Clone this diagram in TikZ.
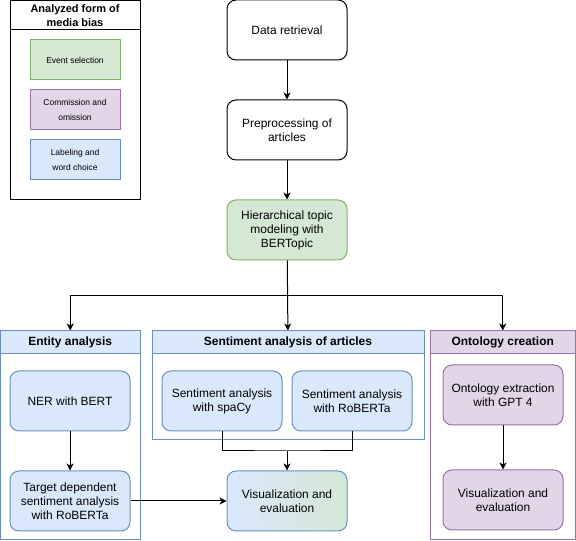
\documentclass[tikz,border=0pt]{standalone}
\usepackage{fontspec}
\setmainfont{Liberation Sans}
\usepackage{tikz}
\usetikzlibrary{arrows.meta,shapes,positioning}

\begin{document}
\begin{tikzpicture}[>={Stealth[length=7bp,width=7bp,inset=2bp]},join=bevel,line width=1bp,
  step box/.style={draw,rounded corners=9bp,minimum width=120bp,minimum height=60bp,align=center,inner sep=1bp,font=\fontsize{12}{14}\selectfont},
  tag box/.style={draw,minimum width=90bp,minimum height=40bp,align=center,inner sep=1bp,font=\fontsize{8.5}{15}\selectfont},
  head box/.style={draw,minimum height=23bp,inner sep=1bp,font=\fontsize{12}{14}\selectfont\bfseries},
  group box/.style={draw,inner sep=0pt}]
%%
%%
\definecolor{gF}{HTML}{D5E8D4}%
\definecolor{gD}{HTML}{82B366}%
\definecolor{pF}{HTML}{E1D5E7}%
\definecolor{pD}{HTML}{9673A6}%
\definecolor{bF}{HTML}{DAE8FC}%
\definecolor{bD}{HTML}{6C8EBF}%
%
\useasboundingbox (0bp,0bp) rectangle (576bp,541bp);
%
\begin{scope}
  \node (legend) at (75bp,440.75bp) [group box,minimum width=130bp,minimum height=199.5bp] {};
  \node (legendhead) at (75bp,525.75bp) [draw,minimum width=130bp,minimum height=29.5bp,inner sep=1bp,align=center,font=\fontsize{11}{14}\selectfont\bfseries] {Analyzed form of\\media bias};
  \node (event) at (75bp,481bp) [tag box,fill=gF,draw=gD] {Event selection};
  \node (commission) at (75bp,431bp) [tag box,fill=pF,draw=pD] {Commission and\\omission};
  \node (labeling) at (75bp,381bp) [tag box,fill=bF,draw=bD] {Labeling and\\word choice};
\end{scope}
\begin{scope}
  \node (entity) at (70.25bp,105.5bp) [group box,draw=bD,minimum width=139.5bp,minimum height=209bp] {};
  \node (entityhead) at (70.25bp,198.5bp) [head box,fill=bF,draw=bD,minimum width=139.5bp] {Entity analysis};
\end{scope}
\begin{scope}
  \node (sentiment) at (288bp,155.5bp) [group box,draw=bD,minimum width=272bp,minimum height=109bp] {};
  \node (sentimenthead) at (288bp,198.5bp) [head box,fill=bF,draw=bD,minimum width=272bp] {Sentiment analysis of articles};
\end{scope}
\begin{scope}
  \node (ontology) at (502.75bp,105.5bp) [group box,draw=pD,minimum width=145.5bp,minimum height=209bp] {};
  \node (ontologyhead) at (502.75bp,198.5bp) [head box,fill=pF,draw=pD,minimum width=145.5bp] {Ontology creation};
\end{scope}
%
  \node (retrieval) at (287bp,511bp) [step box] {Data retrieval};
  \node (preprocessing) at (287bp,411bp) [step box] {Preprocessing of\\articles};
  \node (topic) at (287bp,311bp) [step box,fill=gF,draw=gD] {Hierarchical topic\\modeling with\\BERTopic};
  \node (ner) at (70bp,140bp) [step box,fill=bF,draw=bD] {NER with BERT};
  \node (target) at (70bp,40bp) [step box,fill=bF,draw=bD] {Target dependent\\sentiment analysis\\with RoBERTa};
  \node (spacy) at (222bp,140bp) [step box,fill=bF,draw=bD] {Sentiment analysis\\with spaCy};
  \node (roberta) at (352bp,140bp) [step box,fill=bF,draw=bD] {Sentiment analysis\\with RoBERTa};
  \node (vis) at (287bp,40bp) [step box,left color=bF,right color=gF,draw=bD] {Visualization and\\evaluation};
  \node (extraction) at (503bp,146bp) [step box,fill=pF,draw=pD] {Ontology extraction\\with GPT 4};
  \node (ontovis) at (503bp,41bp) [step box,fill=pF,draw=pD] {Visualization and\\evaluation};

  \coordinate (split) at (287bp,245bp);
  \coordinate (merge) at (287bp,90bp);

  \path[->] (retrieval) edge (preprocessing);
  \path[->] (preprocessing) edge (topic);
  \path[->] (topic) edge (sentimenthead);
  \draw[->] (split) -| (entityhead.north);
  \draw[->] (split) -| (ontologyhead.north);
  \path[->] (ner) edge (target);
  \draw (spacy.south) |- (merge) -| (roberta.south);
  \path[->] (merge) edge (vis);
  \path[->] (target) edge (vis);
  \path[->] (extraction) edge (ontovis);
%
\end{tikzpicture}
\end{document}
